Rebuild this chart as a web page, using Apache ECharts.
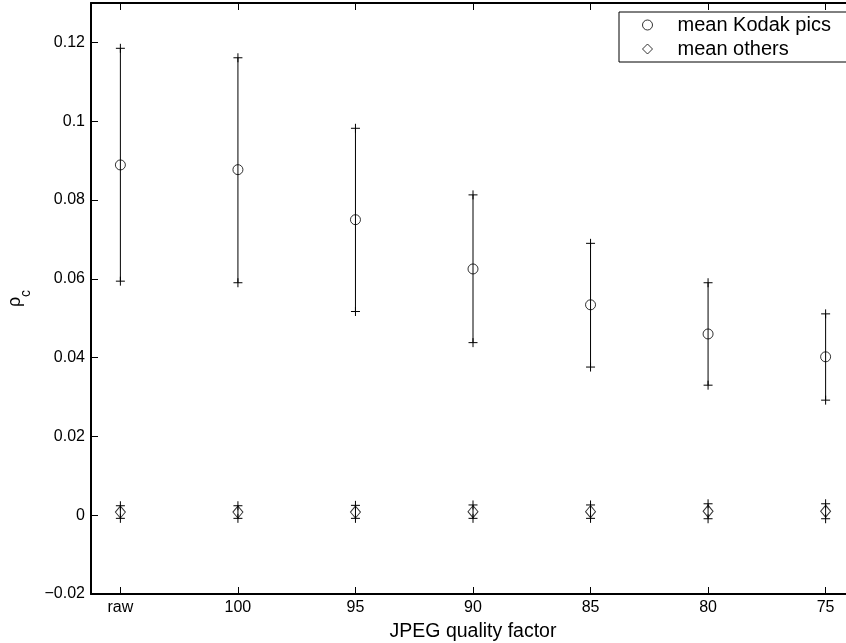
<!DOCTYPE html>
<html>
<head>
<meta charset="utf-8">
<script src="https://cdn.jsdelivr.net/npm/echarts@6/dist/echarts.min.js"></script>
<style>
  html, body { margin: 0; padding: 0; background: #fff; }
  #chart { width: 846px; height: 643px; }
</style>
</head>
<body>
<div id="chart"></div>
<script>
// JPEG quality levels along the x axis
const categories = ['raw', '100', '95', '90', '85', '80', '75'];

// Kodak pictures: mean and error bar ends
const kodakMean  = [0.0889, 0.0877, 0.0750, 0.0625, 0.0534, 0.0460, 0.0402];
const kodakUpper = [0.1185, 0.1161, 0.0982, 0.0813, 0.0690, 0.0590, 0.0511];
const kodakLower = [0.0594, 0.0590, 0.0517, 0.0438, 0.0376, 0.0330, 0.0292];

// Other pictures: mean and error bar ends
const otherMean  = [0.0008, 0.0008, 0.0008, 0.0009, 0.0009, 0.0010, 0.0010];
const otherUpper = [0.0024, 0.0024, 0.0025, 0.0026, 0.0026, 0.0029, 0.0029];
const otherLower = [-0.0008, -0.0008, -0.0008, -0.0008, -0.0008, -0.0009, -0.0009];

// y tick values
const yTicks = [-0.02, 0, 0.02, 0.04, 0.06, 0.08, 0.1, 0.12];

const xPos = categories.map((c, i) => i + 1);
const font = '"Liberation Sans", Arial, Helvetica, sans-serif';

function fmtY(v) {
  const r = Math.round(v * 100) / 100;
  if (r === 0) return '0';
  return (r < 0 ? '\u2212' : '') + String(Math.abs(r));
}

// vertical bar with a '+' mark at each end
function errorBarItem(params, api) {
  const x = api.value(0);
  const top = api.coord([x, api.value(1)]);
  const bot = api.coord([x, api.value(2)]);
  const h = 4.5, v = 4.5;
  const st = { stroke: '#000', lineWidth: 1 };
  const plus = (p) => [
    { type: 'line', shape: { x1: p[0] - h, y1: p[1], x2: p[0] + h, y2: p[1] }, style: st },
    { type: 'line', shape: { x1: p[0], y1: p[1] - v, x2: p[0], y2: p[1] + v }, style: st }
  ];
  return {
    type: 'group',
    children: [
      { type: 'line', shape: { x1: top[0], y1: top[1], x2: bot[0], y2: bot[1] }, style: st }
    ].concat(plus(top), plus(bot))
  };
}

const kodakBars = xPos.map((x, i) => [x, kodakUpper[i], kodakLower[i]]);
const otherBars = xPos.map((x, i) => [x, otherUpper[i], otherLower[i]]);

const chart = echarts.init(document.getElementById('chart'), null, { renderer: 'canvas' });

const xCommon = {
  type: 'value',
  min: 0.75,
  max: 7.25,
  splitLine: { show: false },
  axisLine: { show: true, onZero: false, lineStyle: { color: '#000', width: 2 } },
  axisTick: { show: true, inside: true, length: 7, customValues: xPos, lineStyle: { color: '#000' } }
};

chart.setOption({
  animation: false,
  backgroundColor: '#fff',
  grid: { left: 91, top: 3, width: 764, height: 591, containLabel: false, outerBoundsMode: 'none' },
  legend: {
    orient: 'vertical',
    left: 619,
    top: 12,
    padding: [3, 60, 3, 23],
    itemGap: 4,
    itemWidth: 10,
    itemHeight: 10,
    borderColor: '#000',
    borderWidth: 1,
    backgroundColor: '#fff',
    itemStyle: { borderWidth: 1 },
    textStyle: { fontFamily: font, fontSize: 20, color: '#000', padding: [0, 0, 0, 20] },
    data: ['mean Kodak pics', 'mean others']
  },
  xAxis: [
    Object.assign({}, xCommon, {
      position: 'bottom',
      name: 'JPEG quality factor',
      nameLocation: 'middle',
      nameGap: 28,
      nameTextStyle: { fontFamily: font, fontSize: 19.5, color: '#000' },
      axisLabel: {
        customValues: xPos,
        margin: 6,
        fontFamily: font,
        fontSize: 16,
        color: '#000',
        formatter: (v) => categories[Math.round(v) - 1]
      }
    }),
    Object.assign({}, xCommon, {
      position: 'top',
      axisLabel: { show: false }
    })
  ],
  yAxis: {
    type: 'value',
    min: -0.02,
    max: 0.13,
    interval: 0.02,
    splitLine: { show: false },
    axisLine: { show: true, onZero: false, lineStyle: { color: '#000', width: 2 } },
    axisTick: { show: true, inside: true, length: 7, customValues: yTicks, lineStyle: { color: '#000' } },
    axisLabel: {
      customValues: yTicks,
      margin: 6,
      fontFamily: font,
      fontSize: 16,
      color: '#000',
      formatter: fmtY
    },
    name: '{a|\u03c1}{b|c}',
    nameLocation: 'middle',
    nameRotate: 90,
    nameGap: 58,
    nameTextStyle: {
      rich: {
        a: { fontFamily: font, fontSize: 18, color: '#000', lineHeight: 36, verticalAlign: 'middle' },
        b: { fontFamily: font, fontSize: 14, color: '#000', lineHeight: 14, verticalAlign: 'bottom' }
      }
    }
  },
  series: [
    {
      type: 'custom',
      name: 'kodakBars',
      renderItem: errorBarItem,
      data: kodakBars,
      encode: { x: 0, y: [1, 2] },
      z: 2,
      silent: true
    },
    {
      type: 'custom',
      name: 'otherBars',
      renderItem: errorBarItem,
      data: otherBars,
      encode: { x: 0, y: [1, 2] },
      z: 2,
      silent: true
    },
    {
      type: 'scatter',
      name: 'mean Kodak pics',
      symbol: 'circle',
      symbolSize: 10,
      itemStyle: { color: 'rgba(0,0,0,0)', borderColor: '#000', borderWidth: 1 },
      data: xPos.map((x, i) => [x, kodakMean[i]]),
      z: 3
    },
    {
      type: 'scatter',
      name: 'mean others',
      symbol: 'diamond',
      symbolSize: [10, 12],
      itemStyle: { color: 'rgba(0,0,0,0)', borderColor: '#000', borderWidth: 1 },
      data: xPos.map((x, i) => [x, otherMean[i]]),
      z: 3
    }
  ]
});
</script>
</body>
</html>
